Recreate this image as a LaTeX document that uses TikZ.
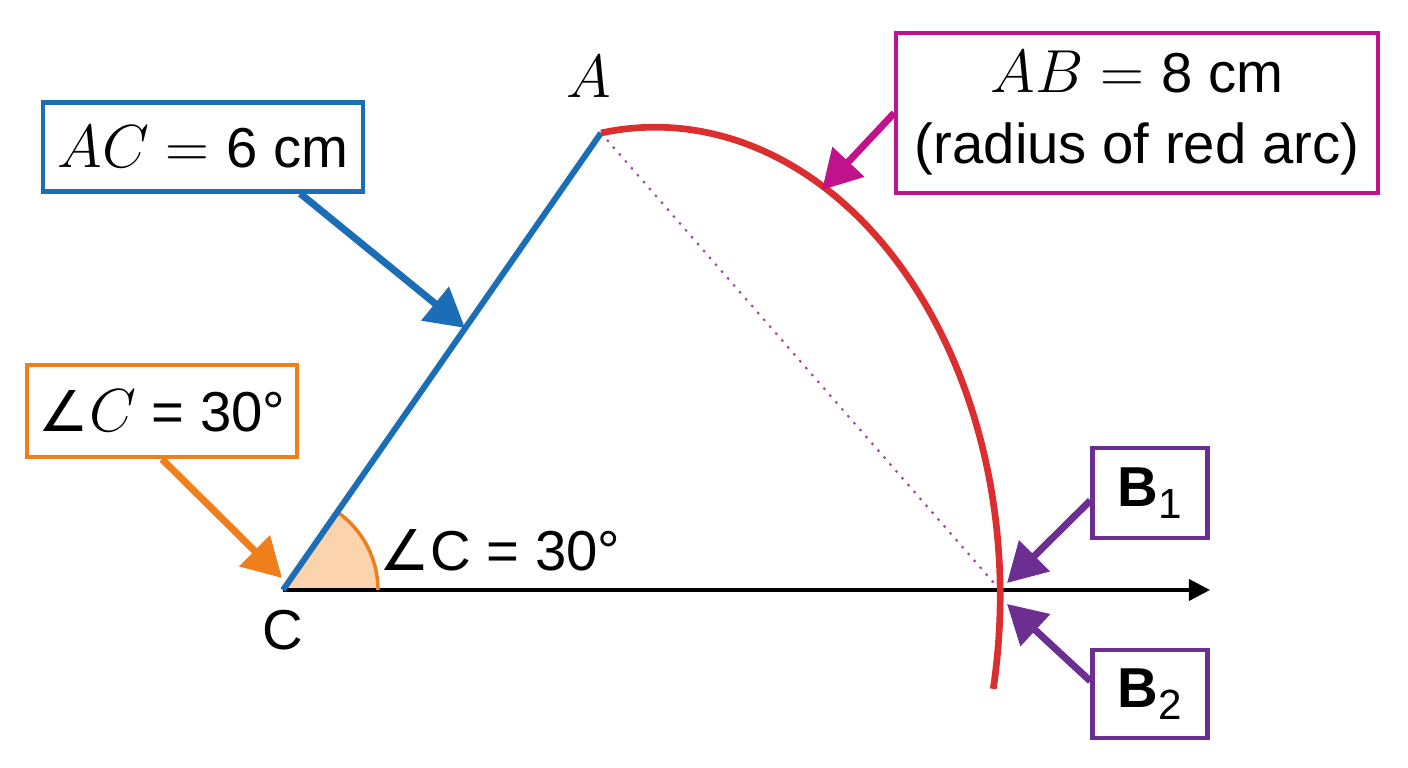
\documentclass[tikz,border=0pt]{standalone}
\usepackage{fontspec}
\setmainfont{Liberation Sans}
\newfontfamily\symfont{DejaVu Sans}
\usetikzlibrary{arrows.meta,calc}
\definecolor{cblue}{HTML}{1B6DB5}
\definecolor{cmag}{HTML}{C0128C}
\definecolor{cred}{HTML}{DC2E2E}
\definecolor{corange}{HTML}{EF7F1A}
\definecolor{cwedge}{HTML}{FBD3AC}
\definecolor{cpurple}{HTML}{6C2E91}
\definecolor{cdot}{HTML}{A04A9A}
\newcommand{\angsym}{{\symfont ∠}}
\begin{document}
\begin{tikzpicture}[x=0.01cm,y=0.01cm,font=\fontsize{16}{20}\selectfont,
  box/.style={draw,line width=1.2pt,fill=white,inner sep=0pt,align=center},
  callout/.style={line width=2pt,-{Triangle[length=11pt,width=12pt]}},
  axisline/.style={line width=1pt,-{Triangle[length=6pt,width=6pt]}},
  dotline/.style={cdot,line width=0.6pt,dash pattern=on 0.7pt off 1.9pt},
]
\useasboundingbox (0,0) rectangle (1408,768);
\coordinate (C) at (283,178);
\coordinate (A) at (601,635);
\coordinate (B) at (1000,178);
\coordinate (X) at (1210,178);
\coordinate (tipAC) at (465,440);
\coordinate (tipAB) at (822,578);
\coordinate (tipAng) at (282,190);
\coordinate (tipB1) at (1007,185);
\coordinate (tipB2) at (1007,164);
% angle wedge
\fill[cwedge] (C) -- ++(95,0) arc[start angle=0,end angle=55.2,radius=0.95cm] -- cycle;
\draw[axisline] (C) -- (X);
\draw[corange,line width=1pt] ($(C)+(95,0)$) arc[start angle=0,end angle=55.2,radius=0.95cm];
\draw[cblue,line width=1.7pt] (C) -- (A);
\draw[dotline] (A) -- (B);
\draw[cred,line width=1.9pt] (A) arc[start angle=99,end angle=-11.5,x radius=3.45cm,y radius=4.68cm];
% boxes
\node[box,draw=cblue,minimum width=3.2cm,minimum height=0.89cm] (boxAC) at (203,621) {$AC = {}$6 cm};
\node[box,draw=cmag,minimum width=4.81cm,minimum height=1.6cm] (boxAB) at (1137,655) {$AB = {}$8 cm\\(radius of red arc)};
\node[box,draw=corange,minimum width=2.7cm,minimum height=0.92cm] (boxAng) at (162,357) {\angsym$C$ = 30°};
\node[box,draw=cpurple,minimum width=1.15cm,minimum height=0.9cm] (boxB1) at (1150,275) {\textbf{B}\raisebox{-0.22em}{\fontsize{12}{12}\selectfont 1}};
\node[box,draw=cpurple,minimum width=1.15cm,minimum height=0.88cm] (boxB2) at (1150,74) {\textbf{B}\raisebox{-0.22em}{\fontsize{12}{12}\selectfont 2}};
% callouts
\draw[callout,cblue] ($(boxAC.south west)!0.8!(boxAC.south east)$) -- (tipAC);
\draw[callout,cmag] (boxAB.west) -- (tipAB);
\draw[callout,corange] (boxAng.south) -- (tipAng);
\draw[callout,cpurple] ($(boxB1.south west)!0.42!(boxB1.north west)$) -- (tipB1);
\draw[callout,cpurple] ($(boxB2.south west)!0.64!(boxB2.north west)$) -- (tipB2);
% labels
\node (labA) at (589,691) {$A$};
\node (labC) at (283,138) {C};
\node (labAng) at (500,218) {\angsym C = 30°};
\end{tikzpicture}
\end{document}
